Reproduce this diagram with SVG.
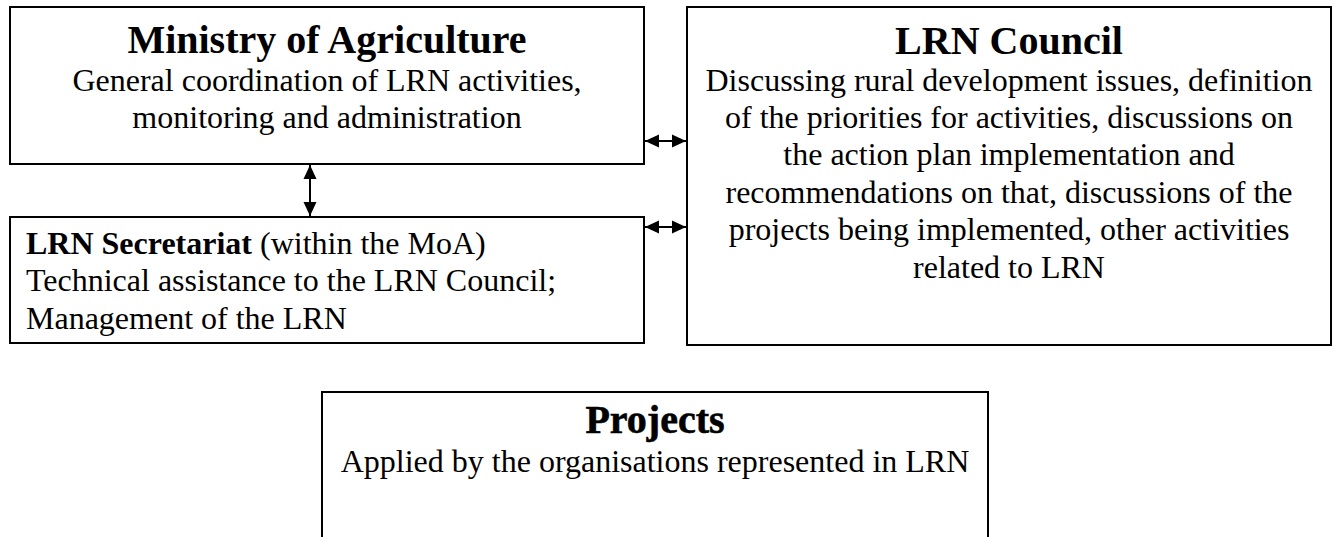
<svg xmlns="http://www.w3.org/2000/svg" width="1338" height="537" viewBox="0 0 1338 537">
<style>
.box{fill:#fff;stroke:#000;stroke-width:2}
.t{font-family:"Liberation Serif","Times New Roman",serif;fill:#000}
.title{font-size:40px;font-weight:bold;text-anchor:middle}
.body{font-size:32px}
.c{text-anchor:middle}
.conn{stroke:#000;stroke-width:2;fill:none}
</style>
<defs>
<marker id="ah" viewBox="0 0 14 14" refX="14" refY="7" markerWidth="14" markerHeight="14" markerUnits="userSpaceOnUse" orient="auto-start-reverse">
<path d="M0,0.5 L14,7 L0,13.5 Z" fill="#000"/>
</marker>
</defs>
<rect width="1338" height="537" fill="#fff"/>
<g id="ministry">
<rect class="box" x="10" y="7" width="634" height="157"/>
<text class="t title" x="327" y="53">Ministry of Agriculture</text>
<text class="t body c" x="327" y="91">General coordination of LRN activities,</text>
<text class="t body c" x="327" y="128">monitoring and administration</text>
</g>
<g id="secretariat">
<rect class="box" x="10" y="217" width="634" height="126"/>
<text class="t body" x="26" y="254"><tspan font-weight="bold">LRN Secretariat</tspan> (within the MoA)</text>
<text class="t body" x="26" y="291">Technical assistance to the LRN Council;</text>
<text class="t body" x="26" y="329">Management of the LRN</text>
</g>
<g id="council">
<rect class="box" x="687" y="7" width="644" height="338"/>
<text class="t title" x="1009" y="54">LRN Council</text>
<text class="t body c" x="1009" y="91">Discussing rural development issues, definition</text>
<text class="t body c" x="1009" y="128">of the priorities for activities, discussions on</text>
<text class="t body c" x="1009" y="165">the action plan implementation and</text>
<text class="t body c" x="1009" y="203">recommendations on that, discussions of the</text>
<text class="t body c" x="1009" y="240">projects being implemented, other activities</text>
<text class="t body c" x="1009" y="278">related to LRN</text>
</g>
<g id="projects">
<rect class="box" x="322" y="392" width="666" height="170"/>
<text class="t title" x="655" y="433" stroke="#000" stroke-width="0.6">Projects</text>
<text class="t body c" x="655" y="472">Applied by the organisations represented in LRN</text>
</g>
<g id="connectors">
<line class="conn" x1="645" y1="141" x2="686" y2="141" marker-start="url(#ah)" marker-end="url(#ah)"/>
<line class="conn" x1="645" y1="227" x2="686" y2="227" marker-start="url(#ah)" marker-end="url(#ah)"/>
<line class="conn" x1="310" y1="165" x2="310" y2="216" marker-start="url(#ah)" marker-end="url(#ah)"/>
</g>
</svg>
